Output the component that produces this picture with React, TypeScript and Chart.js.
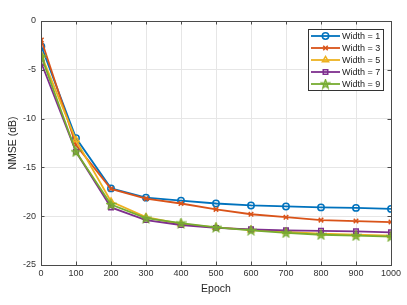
import React, { useEffect, useRef } from 'react';
import { Chart, registerables } from 'chart.js';
import { drawPoint } from 'chart.js/helpers';
Chart.register(...registerables);

const epochs = [1, 100, 200, 300, 400, 500, 600, 700, 800, 900, 1000];
const width1 = [-2.6, -12.0, -17.15, -18.1, -18.4, -18.7, -18.9, -19.0, -19.1, -19.15, -19.25];
const width3 = [-1.95, -12.7, -17.2, -18.2, -18.7, -19.3, -19.8, -20.1, -20.4, -20.5, -20.6];
const width5 = [-3.5, -12.2, -18.5, -20.1, -20.8, -21.15, -21.4, -21.6, -21.8, -21.9, -22.0];
const width7 = [-4.3, -13.4, -19.1, -20.4, -20.9, -21.2, -21.35, -21.45, -21.5, -21.55, -21.65];
const width9 = [-3.65, -13.4, -18.8, -20.2, -20.7, -21.15, -21.45, -21.7, -21.9, -22.0, -22.1];
const seriesLabels = ['Width = 1', 'Width = 3', 'Width = 5', 'Width = 7', 'Width = 9'];
const colors = ['#0072BD', '#D95319', '#EDB120', '#7E2F8E', '#77AC30'];
const xTicks = [0, 100, 200, 300, 400, 500, 600, 700, 800, 900, 1000];
const yTicks = [0, -5, -10, -15, -20, -25];

const FONT = '"Liberation Sans", Arial, sans-serif';

function makePentagram(color: string): HTMLCanvasElement {
  const c = document.createElement('canvas');
  c.width = 11;
  c.height = 11;
  const ctx = c.getContext('2d')!;
  ctx.strokeStyle = color;
  ctx.fillStyle = color;
  ctx.lineWidth = 1.3;
  ctx.beginPath();
  const R = 4.6, r = 1.9, cx = 5.5, cy = 5.7;
  for (let i = 0; i < 10; i++) {
    const rad = i % 2 === 0 ? R : r;
    const a = -Math.PI / 2 + (i * Math.PI) / 5;
    const x = cx + rad * Math.cos(a);
    const y = cy + rad * Math.sin(a);
    if (i === 0) ctx.moveTo(x, y);
    else ctx.lineTo(x, y);
  }
  ctx.closePath();
  ctx.globalAlpha = 0.6;
  ctx.fill();
  ctx.globalAlpha = 1;
  ctx.stroke();
  return c;
}

export default function App() {
  const ref = useRef<HTMLCanvasElement | null>(null);
  useEffect(() => {
    document.body.style.margin = '0';
    const star = makePentagram(colors[4]);
    const styles: any[] = ['circle', 'crossRot', 'triangle', 'rect', star];
    const radii = [3.2, 3.2, 3.6, 3.2, 4];
    const all = [width1, width3, width5, width7, width9];
    const datasets = all.map((vals, i) => ({
      label: seriesLabels[i],
      data: epochs.map((e, j) => ({ x: e, y: vals[j] })),
      borderColor: colors[i],
      backgroundColor: 'rgba(0,0,0,0)',
      borderWidth: 1.8,
      pointStyle: styles[i],
      pointRadius: radii[i],
      pointBorderWidth: 1.5,
      pointBorderColor: colors[i],
      pointBackgroundColor: 'rgba(0,0,0,0)',
      order: 5 - i,
    }));

    const boxPlugin = {
      id: 'box',
      afterDraw(chart: any) {
        const { ctx, chartArea: a, scales } = chart;
        ctx.save();
        ctx.strokeStyle = '#4a4a4a';
        ctx.lineWidth = 1;
        ctx.strokeRect(Math.round(a.left) + 0.5, Math.round(a.top) + 0.5, Math.round(a.right - a.left), Math.round(a.bottom - a.top));
        ctx.beginPath();
        for (const t of xTicks) {
          const x = Math.round(scales.x.getPixelForValue(t)) + 0.5;
          ctx.moveTo(x, a.bottom);
          ctx.lineTo(x, a.bottom - 3.5);
          ctx.moveTo(x, a.top);
          ctx.lineTo(x, a.top + 3.5);
        }
        for (const t of yTicks) {
          const y = Math.round(scales.y.getPixelForValue(t)) + 0.5;
          ctx.moveTo(a.left, y);
          ctx.lineTo(a.left + 3.5, y);
          ctx.moveTo(a.right, y);
          ctx.lineTo(a.right - 3.5, y);
        }
        ctx.stroke();

        // legend
        const lx = 308, ly = 29, lw = 75, lh = 61;
        ctx.fillStyle = '#ffffff';
        ctx.fillRect(lx, ly, lw, lh);
        ctx.strokeStyle = '#333333';
        ctx.strokeRect(lx + 0.5, ly + 0.5, lw, lh);
        ctx.font = `9px ${FONT}`;
        ctx.textBaseline = 'middle';
        ctx.textAlign = 'left';
        for (let i = 0; i < 5; i++) {
          const y = ly + 7 + i * 12;
          ctx.strokeStyle = colors[i];
          ctx.lineWidth = 1.8;
          ctx.beginPath();
          ctx.moveTo(311, y);
          ctx.lineTo(340, y);
          ctx.stroke();
          ctx.lineWidth = 1.5;
          ctx.fillStyle = 'rgba(0,0,0,0)';
          drawPoint(ctx, { pointStyle: styles[i], rotation: 0, radius: radii[i], borderWidth: 1.5 } as any, 325.5, y);
          ctx.fillStyle = '#1a1a1a';
          ctx.fillText(seriesLabels[i], 342, y + 0.5);
        }
        ctx.restore();
      },
    };

    const chart = new Chart(ref.current!, {
      type: 'line',
      data: { datasets },
      plugins: [boxPlugin],
      options: {
        responsive: false,
        animation: false,
        layout: { padding: { top: 21, right: 16, left: 0, bottom: 0 } },
        plugins: { legend: { display: false }, tooltip: { enabled: false } },
        scales: {
          x: {
            type: 'linear',
            min: 0,
            max: 1000,
            afterBuildTicks: (s: any) => { s.ticks = xTicks.map((v) => ({ value: v })); },
            afterFit: (s: any) => { s.height = 40; },
            grid: { color: '#e6e6e6', drawTicks: false },
            border: { display: false },
            ticks: { padding: 3, color: '#333', font: { family: FONT, size: 9 }, maxRotation: 0, callback: (v: any) => String(v) },
            title: { display: true, text: 'Epoch', color: '#262626', font: { family: FONT, size: 10.5 }, padding: { top: 0, bottom: 10 } },
          },
          y: {
            type: 'linear',
            min: -25,
            max: 0,
            afterBuildTicks: (s: any) => { s.ticks = yTicks.map((v) => ({ value: v })); },
            afterFit: (s: any) => { s.width = 41; },
            grid: { color: '#e6e6e6', drawTicks: false },
            border: { display: false },
            ticks: { padding: 5, color: '#333', font: { family: FONT, size: 9 }, callback: (v: any) => String(v) },
            title: { display: true, text: 'NMSE (dB)', color: '#262626', font: { family: FONT, size: 10.5 }, padding: { top: 7, bottom: 0 } },
          },
        },
      },
    });
    return () => chart.destroy();
  }, []);
  return (
    <div style={{ width: 407, height: 305, background: '#fff' }}>
      <canvas ref={ref} width={407} height={305} />
    </div>
  );
}
